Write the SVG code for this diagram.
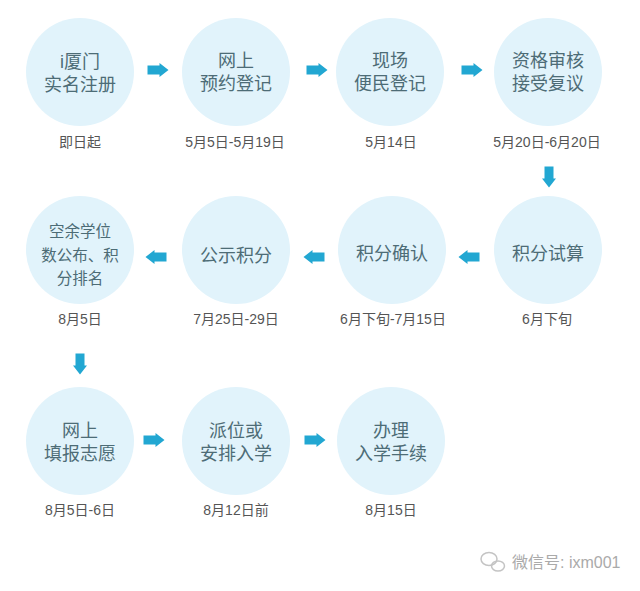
<svg xmlns="http://www.w3.org/2000/svg" width="640" height="591" viewBox="0 0 640 591">
<style>
.c{fill:#e1f3fb}
.t{font-family:"Liberation Sans","Noto Sans CJK SC",sans-serif;font-size:18px;fill:#4d6c76;text-anchor:middle}
.t3{font-size:15.500px}
.d{font-family:"Liberation Sans","Noto Sans CJK SC",sans-serif;font-size:14px;fill:#555;text-anchor:middle}
.w{font-family:"Liberation Sans","Noto Sans CJK SC",sans-serif;font-size:16px;fill:#aaa}
</style>
<defs>
<path id="ar" d="M-10.500 -4.500H1.500V-7L10.500 0L1.500 7V4.500H-10.500Z" fill="#22a7d2"/>
</defs>
<rect width="640" height="591" fill="#fff"/>
<g id="connectors">
<use href="#ar" transform="translate(158 70)"/>
<use href="#ar" transform="translate(317 70)"/>
<use href="#ar" transform="translate(472 70)"/>
<use href="#ar" transform="translate(549 177) rotate(90)"/>
<use href="#ar" transform="translate(469 257) rotate(180)"/>
<use href="#ar" transform="translate(314 257) rotate(180)"/>
<use href="#ar" transform="translate(156 257) rotate(180)"/>
<use href="#ar" transform="translate(80 364) rotate(90)"/>
<use href="#ar" transform="translate(154 440)"/>
<use href="#ar" transform="translate(315 440)"/>
</g>
<g id="n1"><circle class="c" cx="80" cy="72" r="54"/><text class="t" x="80" y="68">i厦门</text><text class="t" x="80" y="91">实名注册</text><text class="d" x="80" y="147">即日起</text></g>
<g id="n2"><circle class="c" cx="236" cy="72" r="54"/><text class="t" x="236" y="67">网上</text><text class="t" x="236" y="90">预约登记</text><text class="d" x="235" y="147">5月5日-5月19日</text></g>
<g id="n3"><circle class="c" cx="390" cy="72" r="54"/><text class="t" x="390" y="67">现场</text><text class="t" x="390" y="90">便民登记</text><text class="d" x="391" y="147">5月14日</text></g>
<g id="n4"><circle class="c" cx="548" cy="72" r="54"/><text class="t" x="548" y="67">资格审核</text><text class="t" x="548" y="90">接受复议</text><text class="d" x="547" y="147">5月20日-6月20日</text></g>
<g id="n5"><circle class="c" cx="548" cy="250" r="54"/><text class="t" x="548" y="260">积分试算</text><text class="d" x="547" y="324">6月下旬</text></g>
<g id="n6"><circle class="c" cx="392" cy="250" r="54"/><text class="t" x="392" y="260">积分确认</text><text class="d" x="393" y="324">6月下旬-7月15日</text></g>
<g id="n7"><circle class="c" cx="236" cy="250" r="54"/><text class="t" x="236" y="262">公示积分</text><text class="d" x="236" y="324">7月25日-29日</text></g>
<g id="n8"><circle class="c" cx="80" cy="250" r="54"/><text class="t t3" x="80" y="237">空余学位</text><text class="t t3" x="80" y="261">数公布、积</text><text class="t t3" x="80" y="284">分排名</text><text class="d" x="80" y="324">8月5日</text></g>
<g id="n9"><circle class="c" cx="80" cy="441" r="54"/><text class="t" x="80" y="437">网上</text><text class="t" x="80" y="460">填报志愿</text><text class="d" x="80" y="515">8月5日-6日</text></g>
<g id="n10"><circle class="c" cx="236" cy="441" r="54"/><text class="t" x="236" y="437">派位或</text><text class="t" x="236" y="460">安排入学</text><text class="d" x="236" y="515">8月12日前</text></g>
<g id="n11"><circle class="c" cx="391" cy="441" r="54"/><text class="t" x="391" y="437">办理</text><text class="t" x="391" y="460">入学手续</text><text class="d" x="391" y="515">8月15日</text></g>
<g id="watermark">
<g fill="none" stroke="#c4c4c4" stroke-width="1.500"><ellipse cx="489" cy="559" rx="8" ry="6.500"/><ellipse cx="498" cy="566" rx="6.500" ry="5"/></g>
<text class="w" x="512" y="568">微信号: ixm001</text>
</g>
</svg>
